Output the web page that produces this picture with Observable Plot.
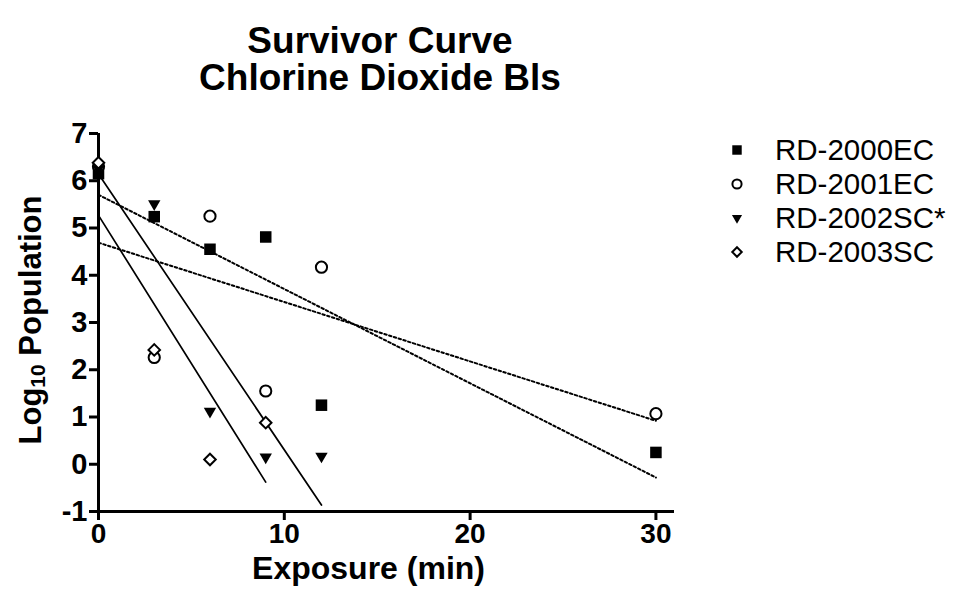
<!DOCTYPE html>
<html><head><meta charset="utf-8">
<script src="https://cdn.jsdelivr.net/npm/d3@7"></script>
<script src="https://cdn.jsdelivr.net/npm/@observablehq/plot@0.6"></script>
<style>
body{margin:0;background:#fff;font-family:"Liberation Sans",Arial,sans-serif;color:#000;}
#title{height:100px;width:760px;box-sizing:border-box;padding-top:22px;text-align:center;font-weight:bold;font-size:37px;line-height:37px;}
#row{position:relative;height:499px;width:954px;}
#legend{position:absolute;left:725px;top:33px;}
.item{display:flex;align-items:center;height:34px;font-size:29.5px;white-space:nowrap;}
.item svg{margin-right:26px;}
</style></head>
<body>
<div id="title">Survivor Curve<br>Chlorine Dioxide Bls</div>
<div id="row"><div id="chart"></div><div id="legend"></div></div>
<script>
// ---- data ----
const seriesNames = ["RD-2000EC", "RD-2001EC", "RD-2002SC*", "RD-2003SC"];
const times2000 = [0, 3, 6, 9, 12, 30];
const rd2000 = [6.15, 5.24, 4.55, 4.81, 1.25, 0.25];
const times2001 = [0, 3, 6, 9, 12, 30];
const rd2001 = [6.3, 2.26, 5.25, 1.55, 4.17, 1.07];
const times2002 = [0, 3, 6, 9, 12];
const rd2002 = [6.25, 5.51, 1.12, 0.15, 0.17];
const times2003 = [0, 3, 6, 9];
const rd2003 = [6.38, 2.42, 0.10, 0.88];
const xTicks = [0, 10, 20, 30];
const yTicks = [-1, 0, 1, 2, 3, 4, 5, 6, 7];
const xLabel = "Exposure (min)";

// ---- styles per series ----
const styles = [
  {symbol: "square", fill: "black", stroke: "none", r: 6.5, dash: "2.5,2.5"},
  {symbol: "circle", fill: "white", stroke: "black", r: 5.6, dash: "2.5,2.5"},
  {symbol: "triangle", fill: "black", stroke: "none", r: 4.6, rotate: 180, dash: null},
  {symbol: "diamond2", fill: "white", stroke: "black", r: 5.2, dash: null}
];

const raw = [[times2000, rd2000], [times2001, rd2001], [times2002, rd2002], [times2003, rd2003]];
const series = raw.map(([t, v], i) => t.map((x, j) => ({x, y: v[j], name: seriesNames[i]})));

const marks = [
  Plot.axisY({ticks: yTicks, tickFormat: d => String(d), tickSize: 9, tickPadding: 2, fontSize: 29, fontWeight: "bold", strokeWidth: 3, label: null}),
  Plot.axisX({ticks: xTicks, tickFormat: d => String(d), tickSize: 9, tickPadding: 3, fontSize: 28, fontWeight: "bold", strokeWidth: 3, label: null}),
  Plot.ruleX([0], {strokeWidth: 3}),
  Plot.ruleY([-1], {strokeWidth: 3})
];
series.forEach((d, i) => {
  const s = styles[i];
  marks.push(Plot.linearRegressionY(d, {x: "x", y: "y", ci: 0, stroke: "black", strokeWidth: s.dash ? 2 : 1.7, strokeDasharray: s.dash || undefined}));
});
series.forEach((d, i) => {
  const s = styles[i];
  marks.push(Plot.dot(d, {x: "x", y: "y", symbol: () => s.symbol, r: s.r, fill: s.fill, stroke: s.stroke, strokeWidth: 2, rotate: s.rotate || 0}));
});
marks.push(Plot.text([xLabel], {text: d => d, frameAnchor: "bottom", dx: -18, dy: 67, fontSize: 32, fontWeight: "bold"}));

const chart = Plot.plot({
  width: 700, height: 499,
  marginLeft: 98, marginRight: 26, marginTop: 33, marginBottom: 88,
  style: {fontFamily: "'Liberation Sans', Arial, sans-serif", color: "black", background: "white", overflow: "visible"},
  x: {domain: [0, 31]},
  y: {domain: [-1, 7]},
  symbol: {type: "identity"},
  marks
});
document.getElementById("chart").appendChild(chart);

// y axis label with subscript
const yl = d3.select(chart).append("text")
  .attr("transform", "translate(30,220) rotate(-90)")
  .attr("text-anchor", "middle").attr("dominant-baseline", "central")
  .attr("font-size", 31).attr("font-weight", "bold").attr("fill", "black");
yl.append("tspan").text("Log");
yl.append("tspan").attr("font-size", 21).attr("dy", 7).text("10");
yl.append("tspan").attr("dy", -7).text(" Population");

// legend
const legend = d3.select("#legend");
seriesNames.forEach((name, i) => {
  const s = styles[i];
  const item = legend.append("div").attr("class", "item");
  const svg = item.append("svg").attr("width", 24).attr("height", 24);
  const sym = {square: d3.symbolSquare, circle: d3.symbolCircle, triangle: d3.symbolTriangle, diamond2: d3.symbolDiamond2}[s.symbol];
  const rr = s.r * 0.82;
  svg.append("path")
    .attr("d", d3.symbol(sym, rr * rr * Math.PI)())
    .attr("transform", `translate(12,12) rotate(${s.rotate || 0})`)
    .attr("fill", s.fill).attr("stroke", s.stroke).attr("stroke-width", 2);
  item.append("span").text(name);
});
</script>
</body></html>
